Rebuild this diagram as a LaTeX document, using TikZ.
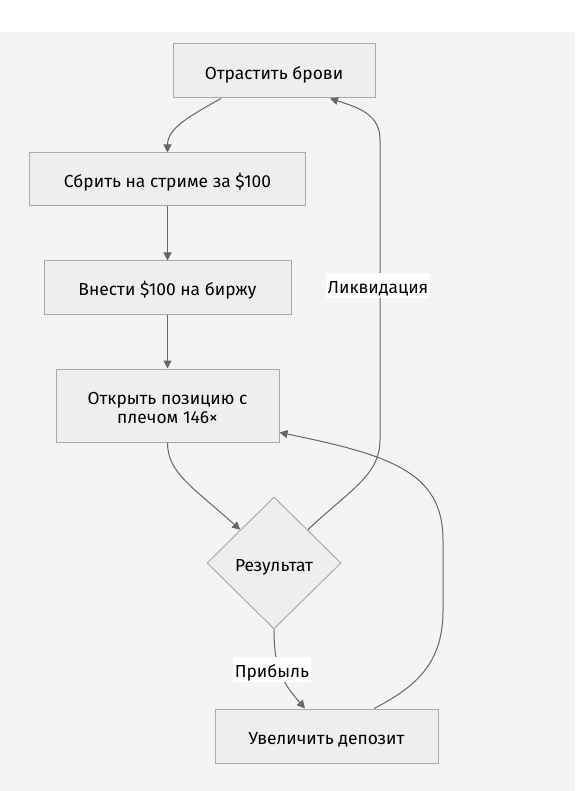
\documentclass[tikz,border=0pt]{standalone}
\usepackage{fontspec}
\setmainfont{Fira Sans}
\usetikzlibrary{shapes.geometric,arrows.meta}
\definecolor{bgc}{HTML}{F4F4F4}
\definecolor{boxfill}{HTML}{EEEEEE}
\definecolor{boxline}{HTML}{AAAAAA}
\definecolor{edgec}{HTML}{666666}
\begin{document}
\begin{tikzpicture}[x=1pt,y=-1pt,
  txt/.style={font=\fontsize{17.4}{18.5}\selectfont},
  oneline/.style={text height=18.4pt, text depth=2pt},
  box/.style={txt, draw=boxline, fill=boxfill, line width=1pt, rectangle, inner sep=0pt, align=center},
  dec/.style={txt, oneline, draw=boxline, fill=boxfill, line width=1pt, diamond, inner sep=0pt, minimum width=134pt, minimum height=132pt},
  link/.style={draw=edgec, line width=1pt, -{Triangle[length=8pt,width=8pt]}},
  lbl/.style={txt, fill=white, inner xsep=2pt, inner ysep=2.5pt, text height=17.8pt, text depth=2.2pt}]
\useasboundingbox (0,0) rectangle (575,791);
\fill[white] (0,0) rectangle (575,32);
\fill[bgc] (0,32) rectangle (575,791);
\node[box, oneline, minimum width=202pt, minimum height=54pt] (n1) at (274,71) {Отрастить брови};
\node[box, oneline, minimum width=276pt, minimum height=53pt] (n2) at (167.5,179.5) {Сбрить на стриме за \$100};
\node[box, oneline, minimum width=247pt, minimum height=53pt] (n3) at (167.5,287.5) {Внести \$100 на биржу};
\node[box, text height=36pt, text depth=0.4pt, minimum width=223pt, minimum height=73pt] (n4) at (167.5,405.5) {Открыть позицию с\\плечом 146×};
\node[dec] (d) at (274,563) {Результат};
\node[box, oneline, minimum width=223pt, minimum height=54pt] (n5) at (326.5,736) {Увеличить депозит};
\draw[link] ([xshift=-53pt]n1.south) .. controls (190,116) and (167.5,128) .. (n2.north);
\draw[link] (n2.south) -- (n3.north);
\draw[link] (n3.south) -- (n4.north);
\draw[link] (n4.south) .. controls (167.5,472) and (190,485) .. (d.north west);
\draw[link] (d.north east) .. controls (350,490) and (380,475) .. (380,440) -- (380,140) .. controls (380,115) and (360,108) .. ([xshift=56pt]n1.south);
\draw[link] (d.south) .. controls (274,665) and (280,680) .. ([xshift=-21.5pt]n5.north);
\draw[link] ([xshift=47.5pt]n5.north) .. controls (420,685) and (443,660) .. (443,610) -- (443,540) .. controls (443,472) and (390,455) .. ([yshift=10pt]n4.south east);
\node[lbl] (l1) at (378,285.5) {Ликвидация};
\node[lbl] (l2) at (272,669.5) {Прибыль};
\end{tikzpicture}
\end{document}
